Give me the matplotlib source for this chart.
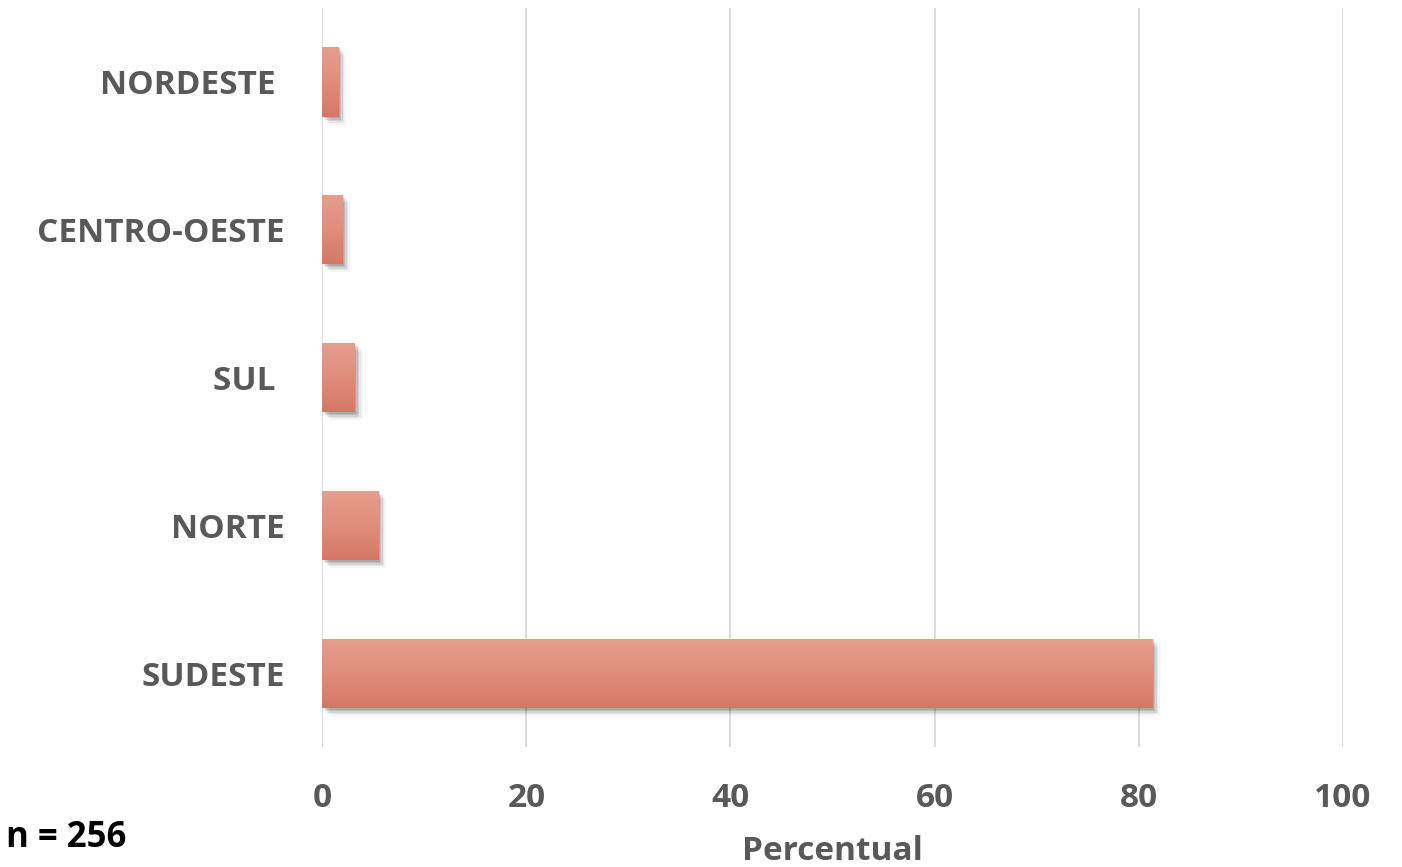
import matplotlib
matplotlib.use('Agg')
import matplotlib.pyplot as plt
import matplotlib.transforms as mtransforms
from matplotlib.colors import LinearSegmentedColormap
import numpy as np

regioes = ['SUDESTE', 'NORTE', 'SUL ', 'CENTRO-OESTE', 'NORDESTE ']
percentual = [81.3, 5.5, 3.2, 2.0, 1.6]
xticks = [0, 20, 40, 60, 80, 100]

plt.rcParams['font.family'] = ['Open Sans', 'DejaVu Sans']

fig = plt.figure(figsize=(14.02, 8.67), dpi=100)
ax = fig.add_axes([0.2297, 0.138, 0.7283, 0.853])

y = np.arange(len(regioes))
h = 0.47

# sombra (deslocada para a direita/baixo)
for dx, dy, a in [(8, -8, 0.04), (6, -6, 0.06), (4.5, -4.5, 0.08), (3, -3, 0.1), (1.5, -1.5, 0.1)]:
    tr = mtransforms.offset_copy(ax.transData, fig=fig, x=dx, y=dy, units='dots')
    ax.barh(y, percentual, height=h, color='black', alpha=a, lw=0, transform=tr, zorder=2)

bars = ax.barh(y, percentual, height=h, color='#e08a78', lw=0, zorder=3)

# gradiente vertical (claro em cima, escuro embaixo)
grad = np.linspace(0, 1, 256).reshape(-1, 1)
cmap = LinearSegmentedColormap.from_list('g', ['#e69e8e', '#e18d7b', '#d47865'])
for b in bars:
    x0, y0 = b.get_x(), b.get_y()
    w, hh = b.get_width(), b.get_height()
    im = ax.imshow(grad, extent=(x0, x0 + w, y0, y0 + hh), origin='upper', cmap=cmap,
                   aspect='auto', zorder=4)
    im.set_clip_path(b)

ax.set_xlim(0, 100)
ax.set_ylim(-0.5, 4.5)
ax.set_xticks(xticks)
ax.set_xticklabels([str(t) for t in xticks])
ax.set_yticks(y)
ax.set_yticklabels(regioes)
ax.grid(axis='x', color='#d9d9d9', lw=1.3, zorder=0)
ax.set_axisbelow(True)
for s in ax.spines.values():
    s.set_visible(False)
ax.tick_params(length=0)
ax.tick_params(axis='x', pad=25, labelsize=24, labelcolor='#595959')
ax.tick_params(axis='y', pad=27, labelsize=24, labelcolor='#595959')
for t in ax.get_xticklabels() + ax.get_yticklabels():
    t.set_fontweight('bold')

ax.set_xlabel('Percentual', fontsize=24, fontweight='bold', color='#595959', labelpad=14)
fig.text(0.004, 0.033, 'n = 256', fontsize=25, fontweight='bold', color='black', va='center')

fig.savefig('out.png', dpi=100)
